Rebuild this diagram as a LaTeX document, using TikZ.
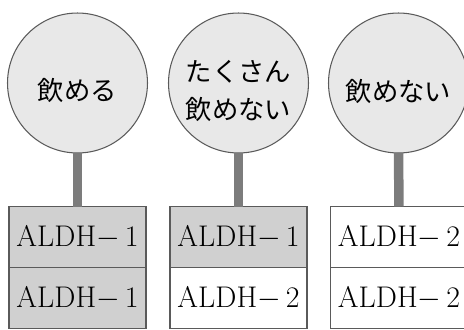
\documentclass[tikz,border=0pt]{standalone}
\usepackage{fontspec}
\newfontfamily\jpfont{Noto Sans CJK JP}
\usetikzlibrary{positioning}

\definecolor{ballgray}{HTML}{E8E8E8}
\definecolor{boxgray}{HTML}{D0D0D0}
\definecolor{stemgray}{HTML}{7C7C7C}
\definecolor{edgegray}{HTML}{5A5A5A}

\tikzset{
  ball/.style={draw=edgegray, line width=0.6pt, circle, fill=ballgray,
    minimum size=2.8cm, inner sep=0pt, outer sep=0pt},
  balltext/.style={align=center, font=\jpfont\fontsize{15}{21.5}\selectfont},
  gene/.style={draw=edgegray, line width=0.6pt, rectangle, minimum width=2.74cm,
    minimum height=1.22cm, inner sep=0pt, outer sep=0pt,
    font=\fontsize{17}{20}\selectfont\addfontfeature{LetterSpace=4}},
  gene1/.style={gene, fill=boxgray},
  gene2/.style={gene, fill=white},
  stem/.style={draw=stemgray, line width=0.19cm}
}

\begin{document}
\begin{tikzpicture}[x=0.02cm, y=-0.02cm]
  \useasboundingbox (0,0) rectangle (464,329);
  \clip (0,0) rectangle (464,329);

  % allele boxes
  \node[gene1] (a1) at (77.5,237) {ALDH$-$\,1};
  \node[gene1] (b1) [below=0pt of a1] {ALDH$-$\,1};
  \node[gene1] (a2) at (238.5,237) {ALDH$-$\,1};
  \node[gene2] (b2) [below=0pt of a2] {ALDH$-$\,2};
  \node[gene2] (a3) at (399,237) {ALDH$-$\,2};
  \node[gene2] (b3) [below=0pt of a3] {ALDH$-$\,2};

  % signs
  \node[ball] (c1) at (77.5,83) {};
  \node[ball] (c2) at (238.5,83) {};
  \node[ball] (c3) at (398.5,83) {};
  \node[balltext] (t1) at (77.5,90) {飲める};
  \node[balltext] (t2) at (238.5,91) {たくさん\\飲めない};
  \node[balltext] (t3) at (398.5,91) {飲めない};

  % stems
  \draw[stem] (c1.south) -- (a1.north);
  \draw[stem] (c2.south) -- (a2.north);
  \draw[stem] (c3.south) -- (a3.north);
\end{tikzpicture}
\end{document}
